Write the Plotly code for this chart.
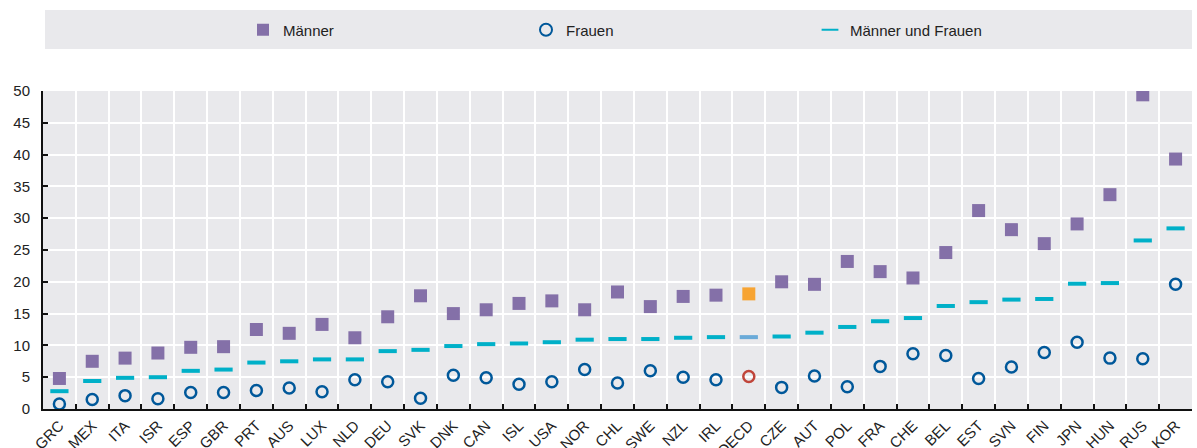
import plotly.graph_objects as go

countries = ["GRC","MEX","ITA","ISR","ESP","GBR","PRT","AUS","LUX","NLD","DEU","SVK",
             "DNK","CAN","ISL","USA","NOR","CHL","SWE","NZL","IRL","OECD","CZE","AUT",
             "POL","FRA","CHE","BEL","EST","SVN","FIN","JPN","HUN","RUS","KOR"]
maenner = [4.8,7.5,8.0,8.8,9.7,9.8,12.5,11.9,13.3,11.2,14.5,17.8,
           15.0,15.6,16.6,17.0,15.6,18.4,16.1,17.7,17.9,18.1,20.0,19.6,
           23.2,21.6,20.6,24.6,31.2,28.2,26.0,29.1,33.7,49.4,39.3]
frauen = [0.8,1.5,2.1,1.6,2.6,2.6,2.9,3.3,2.7,4.6,4.3,1.7,
          5.3,4.9,3.9,4.3,6.2,4.1,6.0,5.0,4.6,5.1,3.4,5.2,
          3.5,6.7,8.7,8.4,4.8,6.6,8.9,10.5,8.0,7.9,19.6]
beide = [2.8,4.4,4.9,5.0,6.0,6.2,7.3,7.5,7.8,7.8,9.1,9.3,
         9.9,10.2,10.3,10.5,10.9,11.0,11.0,11.2,11.3,11.3,11.4,12.0,
         12.9,13.8,14.3,16.2,16.8,17.2,17.3,19.7,19.8,26.5,28.4]
y_ticks = [0,5,10,15,20,25,30,35,40,45,50]

PURPLE = "#8470a8"; ORANGE = "#f7a433"
BLUE = "#00589a"; RED = "#c0453a"
CYAN = "#00b0c8"; LBLUE = "#6aaad8"

def col(c, hi):
    return [hi if k == "OECD" else c for k in countries]

fig = go.Figure()
fig.add_trace(go.Scatter(x=countries, y=maenner, mode="markers", name="Männer", legend="legend",
    marker=dict(symbol="square", size=13, color=col(PURPLE, ORANGE), line=dict(width=0))))
fig.add_trace(go.Scatter(x=countries, y=frauen, mode="markers", name="Frauen", legend="legend2",
    marker=dict(symbol="circle-open", size=11, color=col(BLUE, RED), line=dict(width=2.5, color=col(BLUE, RED)))))
fig.add_trace(go.Scatter(x=countries, y=beide, mode="markers", name="Männer und Frauen", legend="legend3",
    marker=dict(symbol="line-ew-open", size=13, color=col(CYAN, LBLUE), line=dict(width=4, color=col(CYAN, LBLUE)))))

font = "Liberation Sans, Arial"
W = 1149.0; H = 318.0
def px_x(p): return (p - 43) / W
def px_y(p): return (409 - p) / H

leg = dict(xanchor="left", yanchor="middle", bgcolor="rgba(0,0,0,0)",
           font=dict(size=15, color="#222"), itemsizing="constant", orientation="h")
fig.update_layout(
    width=1197, height=448,
    margin=dict(l=43, r=5, t=91, b=39, autoexpand=False),
    paper_bgcolor="white", plot_bgcolor="#e9e9ec",
    font=dict(family=font, size=15, color="#222"),
    showlegend=True,
    legend=dict(leg, x=px_x(243), y=px_y(30)),
    legend2=dict(leg, x=px_x(526), y=px_y(30)),
    legend3=dict(leg, x=px_x(810), y=px_y(30)),
    shapes=[dict(type="rect", xref="paper", yref="paper", x0=px_x(45), x1=px_x(1192),
                 y0=px_y(49), y1=px_y(10), fillcolor="#e9e9ec", line=dict(width=0), layer="below")],
)
fig.update_xaxes(type="category", tickson="boundaries", showgrid=True, gridcolor="white", gridwidth=2,
                 showline=True, linecolor="#111", linewidth=2, ticks="inside", ticklen=5,
                 tickcolor="#111", tickwidth=1.5, tickangle=-45, tickfont=dict(size=15),
                 range=[-0.5, len(countries)-0.5], automargin=False)
fig.update_yaxes(range=[0, 50], tickvals=y_ticks, showgrid=True, gridcolor="white", gridwidth=2,
                 showline=True, linecolor="#111", linewidth=2, ticks="inside", ticklen=5,
                 tickcolor="#111", tickwidth=1.5, zeroline=False, tickfont=dict(size=15),
                 ticklabelstandoff=8, automargin=False)
fig.write_html("out.html", config={"displayModeBar": False},
               post_script="document.body.style.margin='0';document.body.style.overflow='hidden';")
